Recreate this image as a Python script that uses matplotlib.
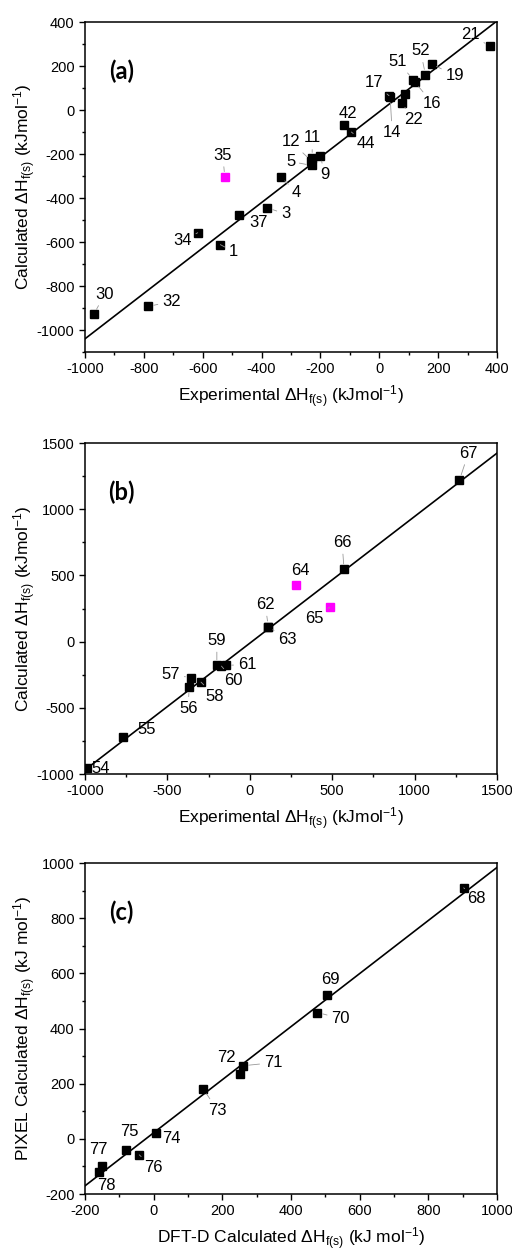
import numpy as np
import matplotlib
matplotlib.use("Agg")
import matplotlib.pyplot as plt
from matplotlib.ticker import MultipleLocator

plt.rcParams["font.family"] = ["Liberation Sans", "DejaVu Sans"]
plt.rcParams["mathtext.fontset"] = "custom"
plt.rcParams["mathtext.rm"] = "Liberation Sans"
plt.rcParams["mathtext.it"] = "Liberation Sans:italic"
plt.rcParams["mathtext.bf"] = "Liberation Sans:bold"
plt.rcParams["axes.unicode_minus"] = False

# ---- data (a): experimental vs calculated
a_ids = ["1", "3", "4", "5", "9", "11", "12", "14", "16", "17", "19", "21", "22", "",
         "30", "32", "34", "35", "37", "42", "44", "51", "52"]
a_exp = [-540, -380, -335, -230, -201, -228, -232, 37, 122, 33, 178, 375, 76, 87,
         -970, -785, -617, -525, -476, -120, -95, 115, 157]
a_calc = [-612, -445, -305, -252, -208, -218, -230, 57, 126, 65, 210, 290, 33, 73,
          -928, -893, -558, -305, -478, -68, -100, 138, 160]
a_outlier = ["35"]
a_fit = (1.032, -8.0)

# ---- data (b)
b_ids = ["54", "55", "56", "57", "58", "59", "60", "61", "62", "63", "64", "65", "66", "67"]
b_exp = [-985, -771, -368, -357, -296, -200, -172, -145, 112, 112, 280, 485, 572, 1272]
b_calc = [-955, -718, -345, -272, -306, -180, -185, -180, 114, 114, 425, 260, 545, 1220]
b_outlier = ["64", "65"]
b_fit = (0.957, -12.0)

# ---- data (c): DFT-D vs PIXEL
c_ids = ["68", "69", "70", "71", "72", "73", "74", "75", "76", "77", "78"]
c_dft = [903, 504, 477, 260, 250, 145, 6, -82, -42, -151, -160]
c_pix = [910, 522, 458, 265, 235, 180, 20, -42, -58, -97, -120]
c_fit = (0.962, 22.0)

# label offsets (pixels, right / down) and whether a leader line is drawn
lab = {
    "1": (13, 7, 1), "3": (18, 6, 1), "4": (16, 15, 1), "5": (-21, -4, 1),
    "9": (5, 19, 1), "11": (0, -20, 1), "12": (-20, -19, 1), "14": (2, 35, 1),
    "16": (17, 21, 1), "17": (-15, -13, 1), "19": (23, 12, 1), "21": (-19, -12, 1),
    "22": (12, 17, 1), "30": (11, -20, 1), "32": (23, -5, 1), "34": (-15, 8, 1),
    "35": (-2, -22, 1), "37": (19, 7, 1), "42": (4, -11, 0), "44": (15, 12, 1),
    "51": (-15, -18, 1), "52": (-5, -24, 1),
    "54": (13, 0, 0), "55": (24, -7, 0), "56": (-1, 21, 1), "57": (-20, -3, 1),
    "58": (14, 14, 1), "59": (0, -25, 1), "60": (12, 14, 1), "61": (21, -1, 1),
    "62": (-3, -22, 1), "63": (19, 13, 1), "64": (4, -15, 0), "65": (-15, 11, 1),
    "66": (-2, -27, 1), "67": (9, -27, 1),
    "68": (13, 11, 1), "69": (4, -15, 0), "70": (23, 6, 1), "71": (30, -3, 1),
    "72": (-13, -17, 0), "73": (14, 21, 1), "74": (16, 5, 0), "75": (4, -19, 0),
    "76": (14, 13, 1), "77": (-3, -16, 0), "78": (8, 14, 0),
}

fig = plt.figure(figsize=(5.12, 12.5), dpi=100)
W, H = 512, 1250


def make_ax(top, bottom):
    return fig.add_axes([85 / W, 1 - bottom / H, 412 / W, (bottom - top) / H])


def draw(ax, ids, xs, ys, outl, fit, xlim, ylim, xmaj, ymaj, xlabel, ylabel, tag):
    fx = np.array(xlim, dtype=float)
    ax.plot(fx, fit[0] * fx + fit[1], color="black", lw=1.2, zorder=2)
    for i, x, y in zip(ids, xs, ys):
        col = "#ff00ff" if i in outl else "black"
        ax.plot(x, y, "s", color=col, ms=5.8, mec=col, zorder=3)
        if not i:
            continue
        dx, dy, lead = lab[i]
        ap = dict(arrowstyle="-", color="0.6", lw=0.6, shrinkA=1, shrinkB=4) if lead else None
        ax.annotate(i, (x, y), xytext=(dx * 0.72, -dy * 0.72), textcoords="offset points",
                    ha="center", va="center", fontsize=12, arrowprops=ap, zorder=4)
    ax.set_xlim(xlim)
    ax.set_ylim(ylim)
    ax.xaxis.set_major_locator(MultipleLocator(xmaj))
    ax.xaxis.set_minor_locator(MultipleLocator(xmaj / 2))
    ax.yaxis.set_major_locator(MultipleLocator(ymaj))
    ax.yaxis.set_minor_locator(MultipleLocator(ymaj / 2))
    ax.tick_params(which="both", direction="out", top=False, right=False, labelsize=10.5)
    ax.tick_params(which="major", length=4, width=1)
    ax.tick_params(which="minor", length=2.5, width=1)
    for s in ax.spines.values():
        s.set_linewidth(1.1)
    ax.set_xlabel(xlabel, fontsize=12.5, labelpad=5)
    ax.set_ylabel(ylabel, fontsize=12.5)
    ax.yaxis.set_label_coords(-0.115, 0.5)
    ax.text(0.089, 0.852, tag, transform=ax.transAxes, fontsize=17, fontweight="bold",
            family=["Lato", "DejaVu Sans"], ha="center", va="center")


exp_lab = r"Experimental ΔH$_{\mathrm{f(s)}}$ (kJmol$^{\mathrm{-1}}$)"
calc_lab = r"Calculated ΔH$_{\mathrm{f(s)}}$ (kJmol$^{\mathrm{-1}}$)"

ax1 = make_ax(22, 352)
draw(ax1, a_ids, a_exp, a_calc, a_outlier, a_fit, (-1000, 400), (-1100, 400), 200, 200,
     exp_lab, calc_lab, "(a)")

ax2 = make_ax(443, 774)
draw(ax2, b_ids, b_exp, b_calc, b_outlier, b_fit, (-1000, 1500), (-1000, 1500), 500, 500,
     exp_lab, calc_lab, "(b)")

ax3 = make_ax(863, 1194)
draw(ax3, c_ids, c_dft, c_pix, [], c_fit, (-200, 1000), (-200, 1000), 200, 200,
     r"DFT-D Calculated ΔH$_{\mathrm{f(s)}}$ (kJ mol$^{\mathrm{-1}}$)",
     r"PIXEL Calculated ΔH$_{\mathrm{f(s)}}$ (kJ mol$^{\mathrm{-1}}$)", "(c)")

fig.savefig("out.png", dpi=100, facecolor="white")
